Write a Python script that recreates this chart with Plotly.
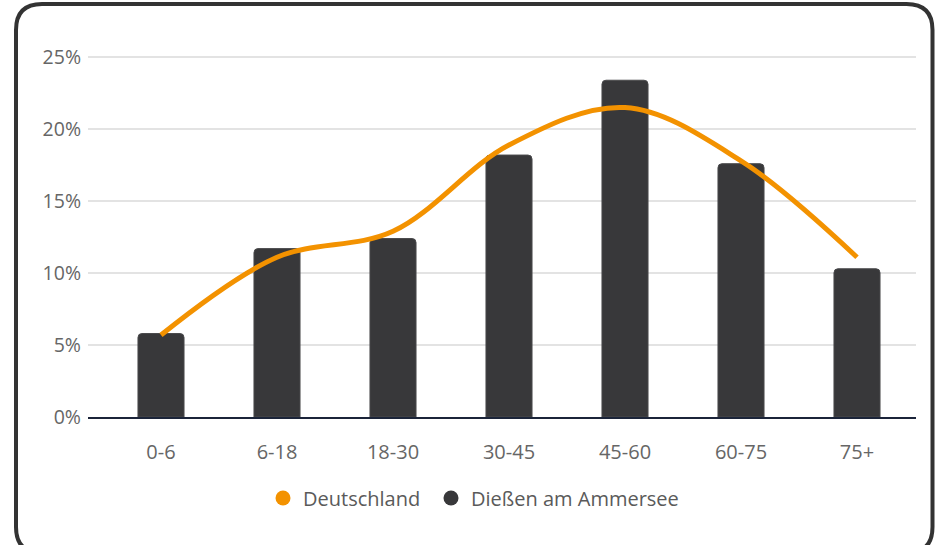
import plotly.graph_objects as go

categories = ["0-6", "6-18", "18-30", "30-45", "45-60", "60-75", "75+"]
diessen = [5.8, 11.7, 12.4, 18.2, 23.4, 17.6, 10.3]
deutschland = [5.7, 11.1, 12.9, 18.9, 21.5, 17.8, 11.1]
y_ticks = [0, 5, 10, 15, 20, 25]
y_tick_labels = ["0%", "5%", "10%", "15%", "20%", "25%"]

ORANGE = "#f39200"
DARK = "#38383a"
FONT = "Open Sans"

W, H = 936, 545
L, R, T, B = 88, 20, 50, 128
PW, PH = W - L - R, H - T - B


def px(x):
    return (x - L) / PW


def py(y):
    return (H - B - y) / PH


fig = go.Figure()
fig.add_trace(go.Bar(
    x=list(range(len(categories))), y=diessen, name="Dießen am Ammersee",
    marker=dict(color=DARK, line=dict(color="#4a4a4c", width=1)),
    width=0.397, showlegend=False,
))
fig.add_trace(go.Scatter(
    x=list(range(len(categories))), y=deutschland, name="Deutschland",
    mode="lines", line=dict(color=ORANGE, width=5, shape="spline", smoothing=1.0),
    showlegend=False,
))
# legend entries (circle symbols)
fig.add_trace(go.Scatter(x=[None], y=[None], mode="markers", name="Deutschland",
                         marker=dict(color=ORANGE, size=15), legend="legend"))
fig.add_trace(go.Scatter(x=[None], y=[None], mode="markers", name="Dießen am Ammersee",
                         marker=dict(color=DARK, size=15), legend="legend2"))

# rounded frame
x0, x1, y0, y1, r = 16, 932.5, 4, 553, 26
path = (
    f"M {px(x0+r)} {py(y0)} L {px(x1-r)} {py(y0)} "
    f"Q {px(x1)} {py(y0)} {px(x1)} {py(y0+r)} "
    f"L {px(x1)} {py(y1-r)} Q {px(x1)} {py(y1)} {px(x1-r)} {py(y1)} "
    f"L {px(x0+r)} {py(y1)} Q {px(x0)} {py(y1)} {px(x0)} {py(y1-r)} "
    f"L {px(x0)} {py(y0+r)} Q {px(x0)} {py(y0)} {px(x0+r)} {py(y0)} Z"
)
fig.add_shape(type="path", path=path, xref="paper", yref="paper",
              line=dict(color="#333333", width=4), layer="above")

legend_common = dict(orientation="h", xanchor="left", y=py(498), yanchor="middle",
                     font=dict(family=FONT, size=20, color="#5a5a5a"),
                     itemclick=False, bgcolor="rgba(0,0,0,0)")

fig.update_layout(
    width=W, height=H,
    margin=dict(l=L, r=R, t=T, b=B, pad=0),
    paper_bgcolor="white", plot_bgcolor="white",
    font=dict(family=FONT, size=20, color="#666666"),
    barcornerradius=4,
    legend=dict(x=px(263), **legend_common),
    legend2=dict(x=px(431), **legend_common),
    xaxis=dict(
        range=[(L - 161) / 116, (W - R - 161) / 116],
        tickmode="array", tickvals=list(range(len(categories))), ticktext=categories,
        showgrid=False, zeroline=False, showline=True, linecolor="#1b2439", linewidth=2,
        ticks="", ticklabelstandoff=16, tickfont=dict(size=20, color="#666666"),
    ),
    yaxis=dict(
        range=[0, 25.5], tickmode="array", tickvals=y_ticks, ticktext=y_tick_labels,
        showgrid=True, gridcolor="#e3e3e3", gridwidth=1.5, zeroline=False, showline=False,
        ticks="", ticklabelstandoff=6, tickfont=dict(size=19.5, color="#666666"),
    ),
)

fig.write_html("out.html", config={"displayModeBar": False},
               post_script="document.body.style.margin='0';")
